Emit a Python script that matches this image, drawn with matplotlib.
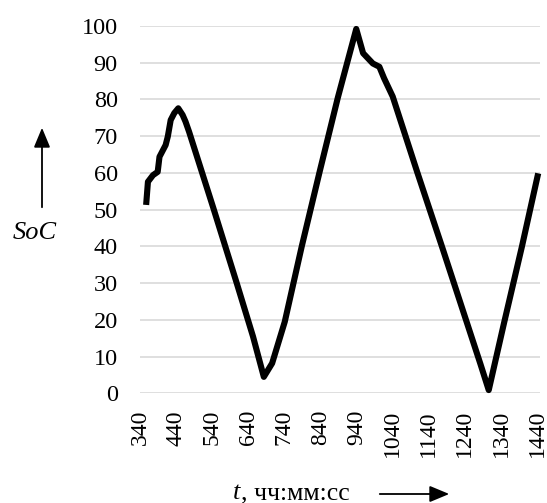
import matplotlib
matplotlib.use("Agg")
import matplotlib.pyplot as plt

# x positions in units of label steps (0 -> "340", 11 -> "1440")
t_vals = [0.09, 0.14, 0.28, 0.41, 0.46, 0.63, 0.69, 0.77, 0.87, 0.98, 1.10, 1.18, 1.28,
          1.95, 2.60, 3.05, 3.35, 3.58, 3.93, 4.40, 4.90, 5.40, 5.91,
          6.10, 6.37, 6.55, 6.68, 6.92, 7.60, 8.30, 8.95, 9.35, 9.58, 10.00, 10.50, 10.95]
soc_vals = [51.3, 57.6, 59.4, 60.3, 64.4, 67.6, 69.9, 74.4, 76.3, 77.6, 75.8, 74.0, 71.2,
            50.5, 30.0, 15.5, 4.5, 8.2, 19.5, 40.0, 60.5, 80.5, 99.2,
            92.6, 89.8, 88.9, 85.8, 80.8, 60.2, 39.5, 20.0, 8.0, 0.9, 19.0, 40.0, 59.9]
x_tick_labels = ["340", "440", "540", "640", "740", "840", "940", "1040",
                 "1140", "1240", "1340", "1440"]
y_ticks = [0, 10, 20, 30, 40, 50, 60, 70, 80, 90, 100]

serif = ["Liberation Serif", "DejaVu Serif"]

fig = plt.figure(figsize=(5.47, 5.03), dpi=100)
ax = fig.add_axes([140 / 547, 1 - 393.4 / 503, 400 / 547, 367.4 / 503])

for yv in y_ticks:
    ax.axhline(yv, color="#d9d9d9", lw=1.2, zorder=1)

ax.plot(t_vals, soc_vals, color="black", lw=4.4, solid_joinstyle="round",
        solid_capstyle="butt", zorder=3, clip_on=False)

ax.set_xlim(0, 11)
ax.set_ylim(0, 100)
ax.set_yticks(y_ticks)
ax.set_yticklabels([str(v) for v in y_ticks], family=serif, fontsize=17.5)
ax.set_xticks([i - 0.08 for i in range(len(x_tick_labels))])
ax.set_xticklabels(x_tick_labels, family=serif, fontsize=17, rotation=90,
                   va="top", ha="center")
ax.tick_params(axis="both", length=0)
ax.tick_params(axis="y", pad=16)
ax.tick_params(axis="x", pad=12)
for s in ax.spines.values():
    s.set_visible(False)

# y label with arrow
fig.text(35 / 547, 1 - 233 / 503, "SoC", family=serif, style="italic",
         fontsize=19, ha="center", va="center")
fig.add_artist(matplotlib.patches.FancyArrowPatch(
    (42 / 547, 1 - 210 / 503), (42 / 547, 1 - 125 / 503),
    transform=fig.transFigure, arrowstyle="-|>,head_length=0.6,head_width=0.25",
    mutation_scale=20, color="black", lw=1.3))

# x label with arrow
fig.text(233 / 547, 1 - 493 / 503, "t", family=serif, style="italic", fontsize=19,
         ha="left", va="center")
fig.text(241 / 547, 1 - 493 / 503, ", чч:мм:сс", family=serif, fontsize=18.5,
         ha="left", va="center")
fig.add_artist(matplotlib.patches.FancyArrowPatch(
    (377 / 547, 1 - 494 / 503), (452 / 547, 1 - 494 / 503),
    transform=fig.transFigure, arrowstyle="-|>,head_length=0.6,head_width=0.25",
    mutation_scale=20, color="black", lw=1.3))

fig.savefig("out.png", dpi=100, facecolor="white")
